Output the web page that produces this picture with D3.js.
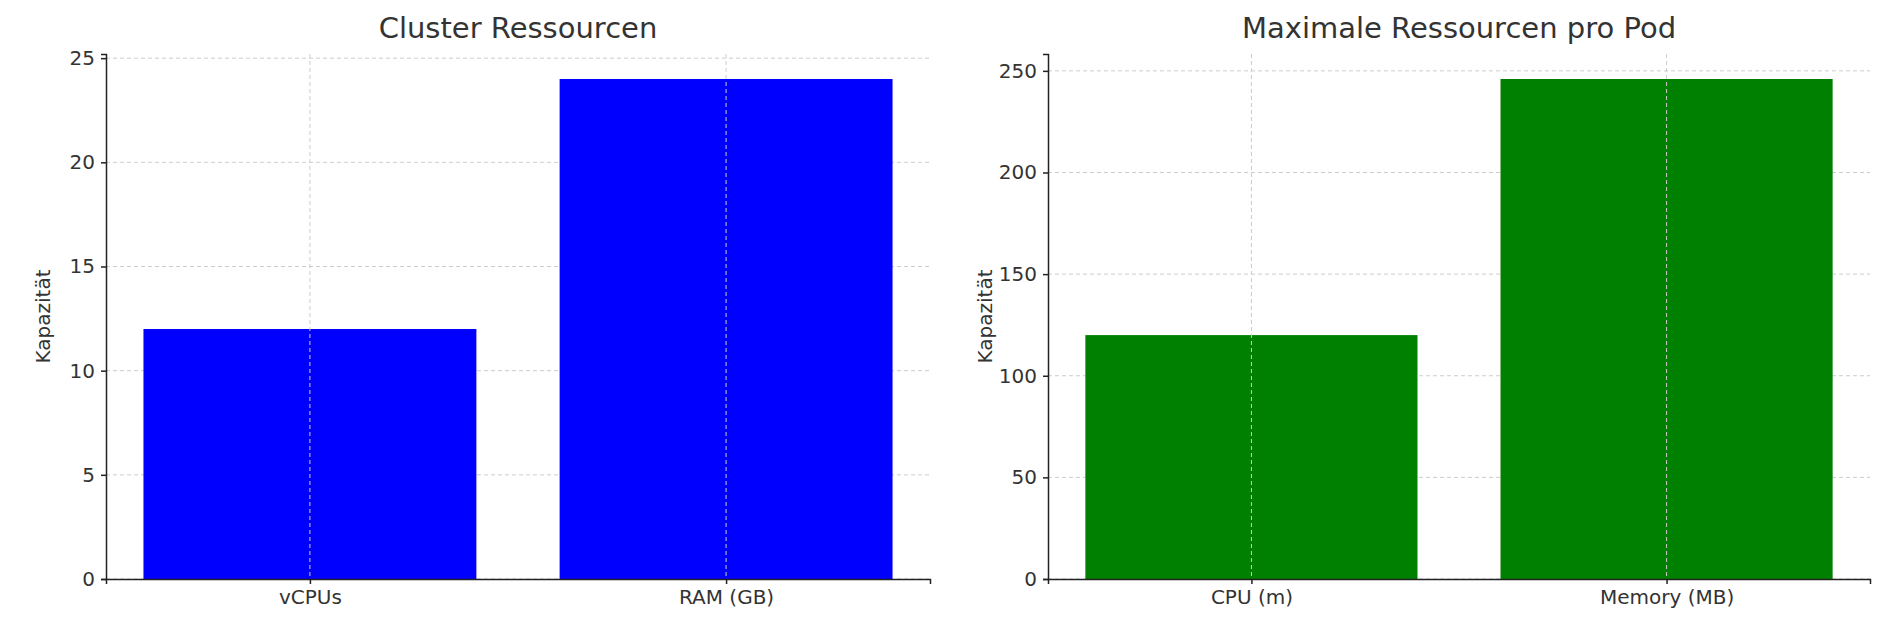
<!DOCTYPE html>
<html><head><meta charset="utf-8">
<script src="https://cdn.jsdelivr.net/npm/d3@7"></script>
<style>body{margin:0;background:#fff}text{font-family:"DejaVu Sans",sans-serif;fill:#333}</style>
</head><body><svg id="chart" width="1886" height="621"></svg>
<script>
const clusterCats = ["vCPUs", "RAM (GB)"];
const clusterVals = [12, 24];
const clusterTicks = [0, 5, 10, 15, 20, 25];
const podCats = ["CPU (m)", "Memory (MB)"];
const podVals = [120, 246];
const podTicks = [0, 50, 100, 150, 200, 250];

const svg = d3.select("#chart");

function panel(x0, x1, title, cats, vals, ticks, color) {
    const top = 54, bottom = 579;
    const ymax = d3.max(vals) * 1.05;
    const x = d3.scaleLinear().domain([-0.49, 1.49]).range([x0, x1]);
    const y = d3.scaleLinear().domain([0, ymax]).range([bottom, top]);
    const g = svg.append("g");

    // grid
    g.selectAll(".gy").data(ticks).join("line")
        .attr("x1", x0).attr("x2", x1).attr("y1", d => y(d)).attr("y2", d => y(d))
        .attr("stroke", "#ccc").attr("stroke-dasharray", "4,3");

    g.selectAll(".bar").data(vals).join("rect")
        .attr("x", (d, i) => x(i - 0.4)).attr("width", x(0.4) - x(-0.4))
        .attr("y", d => y(d)).attr("height", d => bottom - y(d))
        .attr("fill", color);

    g.selectAll(".gx").data(cats).join("line")
        .attr("x1", (d, i) => x(i)).attr("x2", (d, i) => x(i)).attr("y1", top).attr("y2", bottom)
        .attr("stroke", "#ccc").attr("stroke-dasharray", "4,3");

    const ya = g.append("g").attr("transform", `translate(${x0},0)`)
        .call(d3.axisLeft(y).tickValues(ticks).tickSize(5).tickPadding(6));
    const xa = g.append("g").attr("transform", `translate(0,${bottom})`)
        .call(d3.axisBottom(x).tickValues([0, 1]).tickFormat(i => cats[i]).tickSize(5).tickPadding(6));
    [ya, xa].forEach(a => {
        a.selectAll("text").style("font-size", "20px").attr("fill", "#333");
        a.selectAll("line,path").attr("stroke", "#222").attr("stroke-width", 1.5);
    });

    g.append("text").attr("x", (x0 + x1) / 2).attr("y", 38).attr("text-anchor", "middle")
        .style("font-size", "29px").text(title);
    g.append("text").attr("transform", `translate(${x0 - 56},${(top + bottom) / 2}) rotate(-90)`)
        .attr("text-anchor", "middle").style("font-size", "20px").text("Kapazität");
}

panel(106, 930, "Cluster Ressourcen", clusterCats, clusterVals, clusterTicks, "#0000ff");
panel(1048, 1870, "Maximale Ressourcen pro Pod", podCats, podVals, podTicks, "#008000");
</script></body></html>
